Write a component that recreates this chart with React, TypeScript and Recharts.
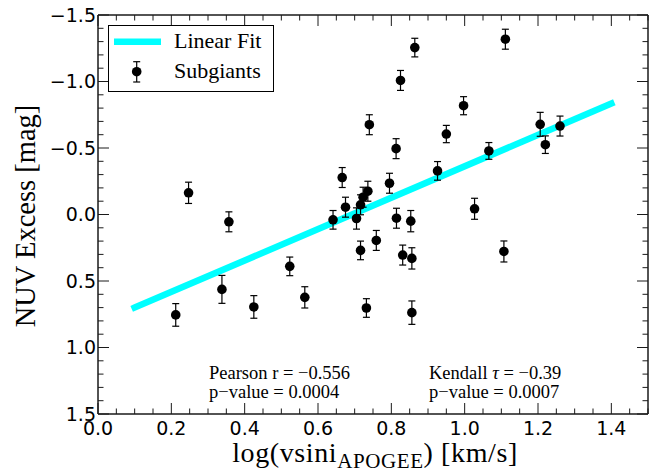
import React from "react";
import { ComposedChart, XAxis, YAxis, Scatter, Line, ErrorBar, Legend, Customized } from "recharts";

// log(vsini_APOGEE) for each subgiant
const xValues = [
  0.212, 0.247, 0.338, 0.357, 0.425, 0.523, 0.564,
  0.641, 0.666, 0.675, 0.705, 0.716, 0.716, 0.723, 0.732, 0.736, 0.74, 0.759,
  0.795, 0.813, 0.814, 0.825, 0.831, 0.853, 0.856, 0.856, 0.864,
  0.926, 0.95, 0.997, 1.027, 1.066, 1.107, 1.111, 1.206, 1.22, 1.26,
];
// NUV excess [mag]
const yValues = [
  0.755, -0.163, 0.563, 0.055, 0.695, 0.39, 0.623,
  0.04, -0.278, -0.055, 0.03, -0.073, 0.27, -0.13, 0.703, -0.175, -0.675, 0.195,
  -0.235, -0.495, 0.028, -1.008, 0.305, 0.05, 0.33, 0.738, -1.255,
  -0.328, -0.605, -0.818, -0.043, -0.478, 0.278, -1.318, -0.678, -0.525, -0.665,
];
const yErrors = [
  0.085, 0.08, 0.105, 0.075, 0.085, 0.07, 0.08,
  0.07, 0.075, 0.075, 0.08, 0.075, 0.07, 0.075, 0.07, 0.075, 0.075, 0.075,
  0.075, 0.075, 0.075, 0.075, 0.075, 0.08, 0.08, 0.088, 0.07,
  0.07, 0.065, 0.068, 0.079, 0.063, 0.079, 0.075, 0.09, 0.066, 0.075,
];

const fitX = [0.1, 1.4];
const fitY = [0.7, -0.835];

const xTicks = [
  0, 0.05, 0.1, 0.15, 0.2, 0.25, 0.3, 0.35, 0.4, 0.45, 0.5, 0.55, 0.6, 0.65, 0.7, 0.75,
  0.8, 0.85, 0.9, 0.95, 1.0, 1.05, 1.1, 1.15, 1.2, 1.25, 1.3, 1.35, 1.4, 1.45, 1.5,
];
const yTicks = [
  -1.5, -1.4, -1.3, -1.2, -1.1, -1.0, -0.9, -0.8, -0.7, -0.6, -0.5, -0.4, -0.3, -0.2, -0.1, 0,
  0.1, 0.2, 0.3, 0.4, 0.5, 0.6, 0.7, 0.8, 0.9, 1.0, 1.1, 1.2, 1.3, 1.4, 1.5,
];

const points = xValues.map((x, i) => ({ x, y: yValues[i], err: yErrors[i] }));
const fitData = fitX.map((x, i) => ({ x, y: fitY[i] }));

const SERIF = "'Liberation Serif', 'Times New Roman', serif";
const SANS = "'DejaVu Sans', sans-serif";
const FRAME = "#1a1a1a";

const isMajorX = (v: number) => Math.abs(v * 5 - Math.round(v * 5)) < 1e-6;
const isMajorY = (v: number) => Math.abs(v * 2 - Math.round(v * 2)) < 1e-6;
const fmt = (v: number) => v.toFixed(1).replace("-", "\u2212");

const BottomTick = (props: any) => {
  const { x, y, payload } = props;
  const major = isMajorX(payload.value);
  return (
    <g>
      <line x1={x} y1={y} x2={x} y2={y - (major ? 11 : 5.5)} stroke={FRAME} strokeWidth={1} />
      {major && (
        <text x={x} y={y + 21} textAnchor="middle" fontFamily={SANS} fontSize={19} fill="#000">
          {fmt(payload.value)}
        </text>
      )}
    </g>
  );
};

const TopTick = (props: any) => {
  const { x, y, payload } = props;
  const major = isMajorX(payload.value);
  return <line x1={x} y1={y} x2={x} y2={y + (major ? 11 : 5.5)} stroke={FRAME} strokeWidth={1} />;
};

const LeftTick = (props: any) => {
  const { x, y, payload } = props;
  const major = isMajorY(payload.value);
  return (
    <g>
      <line x1={x} y1={y} x2={x + (major ? 11 : 5.5)} y2={y} stroke={FRAME} strokeWidth={1} />
      {major && (
        <text x={x - 2} y={y} dy="0.36em" textAnchor="end" fontFamily={SANS} fontSize={19} fill="#000">
          {fmt(payload.value)}
        </text>
      )}
    </g>
  );
};

const RightTick = (props: any) => {
  const { x, y, payload } = props;
  const major = isMajorY(payload.value);
  return <line x1={x} y1={y} x2={x - (major ? 11 : 5.5)} y2={y} stroke={FRAME} strokeWidth={1} />;
};

const Dot = (props: any) => <circle cx={props.cx} cy={props.cy} r={4.8} fill="#000" />;

const LegendBox = () => (
  <svg width={166} height={67} style={{ display: "block" }}>
    <rect x={0.5} y={0.5} width={165} height={66} fill="#fff" stroke="#000" strokeWidth={1} />
    <line x1={6} y1={16.7} x2={53} y2={16.7} stroke="#00ffff" strokeWidth={6.5} />
    <text x={66} y={23.3} fontFamily={SERIF} fontSize={22} fill="#000">Linear Fit</text>
    <g stroke="#000" strokeWidth={1.2}>
      <line x1={28.7} y1={36.7} x2={28.7} y2={57} />
      <line x1={25.2} y1={36.7} x2={32.2} y2={36.7} />
      <line x1={25.2} y1={57} x2={32.2} y2={57} />
    </g>
    <circle cx={28.7} cy={46.7} r={4.8} fill="#000" />
    <text x={66} y={53.3} fontFamily={SERIF} fontSize={22} fill="#000">Subgiants</text>
  </svg>
);

const Texts = () => (
  <g fontFamily={SERIF} fill="#000">
    <text x={209} y={379} fontSize={18.5}>Pearson r = {"\u2212"}0.556</text>
    <text x={209} y={398} fontSize={18.5}>p{"\u2212"}value = 0.0004</text>
    <text x={429} y={379} fontSize={18.5}>
      Kendall <tspan fontStyle="italic">τ</tspan> = {"\u2212"}0.39
    </text>
    <text x={429} y={398} fontSize={18.5}>p{"\u2212"}value = 0.0007</text>
    <text x={375} y={462} fontSize={28} letterSpacing={0.6} textAnchor="middle">
      log(vsini<tspan fontSize={21} dy={6}>APOGEE</tspan>
      <tspan dy={-6}>) [km/s]</tspan>
    </text>
    <text transform="translate(35,216) rotate(-90)" fontSize={28.5} textAnchor="middle">
      NUV Excess [mag]
    </text>
  </g>
);

export default function App() {
  return (
    <div style={{ position: "absolute", left: 0, top: 0 }}>
      <ComposedChart width={657} height={473} margin={{ top: 14, right: 8, bottom: 0, left: 0 }}>
        <XAxis
          xAxisId="bottom"
          dataKey="x"
          type="number"
          domain={[0, 1.5]}
          ticks={xTicks}
          interval={0}
          height={59}
          tickSize={0}
          tickMargin={0}
          tick={<BottomTick />}
          axisLine={{ stroke: FRAME, strokeWidth: 1.5 }}
          allowDataOverflow
        />
        <XAxis
          xAxisId="top"
          orientation="top"
          dataKey="x"
          type="number"
          domain={[0, 1.5]}
          ticks={xTicks}
          interval={0}
          height={1}
          tickSize={0}
          tickMargin={0}
          tick={<TopTick />}
          axisLine={{ stroke: FRAME, strokeWidth: 1.5 }}
          allowDataOverflow
        />
        <YAxis
          yAxisId="left"
          dataKey="y"
          type="number"
          domain={[-1.5, 1.5]}
          reversed
          ticks={yTicks}
          interval={0}
          width={98}
          tickSize={0}
          tickMargin={0}
          tick={<LeftTick />}
          axisLine={{ stroke: FRAME, strokeWidth: 1.5 }}
          allowDataOverflow
        />
        <YAxis
          yAxisId="right"
          orientation="right"
          dataKey="y"
          type="number"
          domain={[-1.5, 1.5]}
          reversed
          ticks={yTicks}
          interval={0}
          width={1}
          tickSize={0}
          tickMargin={0}
          tick={<RightTick />}
          axisLine={{ stroke: FRAME, strokeWidth: 1.5 }}
          allowDataOverflow
        />
        <Line
          xAxisId="bottom"
          yAxisId="left"
          data={fitData}
          dataKey="y"
          name="Linear Fit"
          type="linear"
          stroke="#00ffff"
          strokeWidth={6.5}
          strokeLinecap="square"
          dot={false}
          activeDot={false}
          isAnimationActive={false}
        />
        <Scatter
          xAxisId="bottom"
          yAxisId="left"
          data={points}
          dataKey="y"
          name="Subgiants"
          shape={<Dot />}
          isAnimationActive={false}
        >
          <ErrorBar dataKey="err" direction="y" width={3.5} stroke="#000" strokeWidth={1.2} />
        </Scatter>
        <Legend
          layout="vertical"
          align="center"
          verticalAlign="middle"
          content={<LegendBox />}
          wrapperStyle={{ position: "absolute", left: 108, top: 25, width: 166, height: 67 }}
        />
        <Customized component={<Texts />} />
      </ComposedChart>
    </div>
  );
}
